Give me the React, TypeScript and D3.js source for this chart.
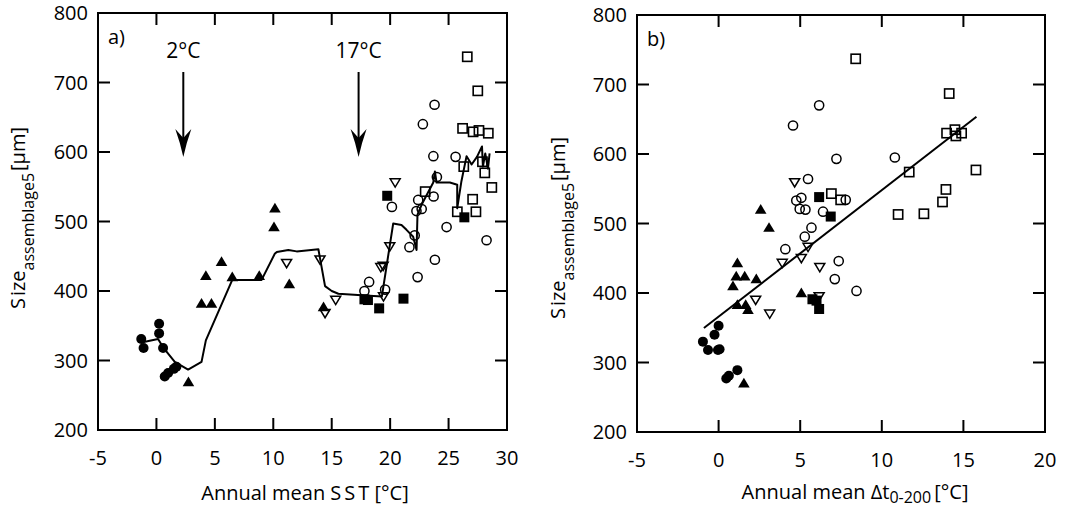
import React from "react";
import * as d3 from "d3";

type Pt = [number, number];

// ---- panel a: size vs annual mean SST ----
const sstFilledCircles: Pt[] = [[-1.3, 331], [-1.1, 318], [0.23, 353], [0.23, 339], [0.57, 318], [0.71, 277], [1.0, 282], [1.49, 288], [1.71, 291]];
const sstFilledTriangles: Pt[] = [[2.74, 269], [4.23, 422], [3.86, 382], [4.71, 382], [5.57, 442], [6.49, 420], [8.8, 422], [10.14, 519], [10.06, 492], [11.37, 410], [14.3, 377]];
const sstOpenDownTriangles: Pt[] = [[11.14, 440], [14.0, 445], [14.43, 368], [15.34, 387], [19.2, 434], [19.4, 436], [19.97, 464], [20.43, 556], [19.43, 392]];
const sstFilledSquares: Pt[] = [[19.75, 537], [17.8, 388], [18.1, 387], [19.06, 375], [21.14, 389], [26.35, 506]];
const sstOpenCircles: Pt[] = [[17.8, 400], [18.2, 413], [19.57, 402], [20.15, 521], [21.65, 463], [22.1, 480], [22.25, 515], [22.4, 531], [22.35, 420], [22.7, 518], [22.8, 640], [23.72, 536], [23.7, 594], [23.8, 668], [23.83, 445], [24.0, 564], [24.83, 492], [25.6, 593], [28.25, 473]];
const sstOpenSquares: Pt[] = [[26.6, 737], [27.5, 688], [26.2, 634], [27.1, 629], [27.6, 631], [28.4, 627], [26.3, 579], [27.9, 586], [28.1, 570], [28.7, 549], [23.0, 543], [27.06, 532], [25.75, 514], [27.34, 514]];
// running mean
const sstLine: Pt[] = [[-1.29, 326], [0.14, 331], [0.57, 319], [1.57, 298], [2.71, 287], [3.86, 298], [4.23, 329], [6.49, 416], [9.0, 416], [10.14, 454], [10.3, 456], [11.29, 459], [12.0, 457], [13.86, 460], [14.43, 407], [15.0, 400], [15.57, 396], [17.57, 394], [19.29, 392], [20.26, 497], [20.97, 495], [21.4, 488], [21.97, 478], [22.26, 459], [22.34, 510], [22.69, 524], [23.69, 556], [23.83, 572], [23.97, 556], [25.11, 556], [25.74, 553], [25.74, 519], [26.1, 558], [26.54, 594], [26.97, 582], [27.43, 593], [27.86, 608], [27.94, 579], [28.14, 598], [28.37, 576], [28.51, 598]];
const sstArrows = [{ x: 2.3, label: "2°C" }, { x: 17.3, label: "17°C" }];

// ---- panel b: size vs annual mean dt 0-200 ----
const dtFilledCircles: Pt[] = [[-0.96, 330], [-0.65, 318], [-0.25, 340], [0, 353], [-0.04, 318], [0.06, 319], [0.47, 277], [0.63, 281], [1.15, 289]];
const dtFilledTriangles: Pt[] = [[1.55, 270], [2.58, 520], [3.09, 494], [1.15, 443], [0.88, 410], [1.08, 424], [1.6, 424], [2.31, 420], [1.15, 383], [1.66, 383], [1.8, 376], [5.07, 400]];
const dtOpenDownTriangles: Pt[] = [[4.66, 559], [3.9, 443], [5.07, 450], [5.48, 466], [6.2, 437], [2.27, 390], [3.13, 370], [6.16, 395]];
const dtFilledSquares: Pt[] = [[6.16, 538], [6.87, 510], [5.75, 391], [6.0, 389], [6.16, 377]];
const dtOpenCircles: Pt[] = [[4.56, 641], [6.16, 670], [7.22, 593], [5.48, 564], [4.76, 533], [5.07, 537], [4.97, 521], [5.32, 520], [6.4, 517], [7.79, 534], [5.69, 494], [5.28, 481], [4.09, 463], [7.36, 446], [7.12, 420], [8.45, 403], [10.8, 595]];
const dtOpenSquares: Pt[] = [[8.4, 737], [14.13, 687], [13.97, 630], [14.48, 635], [14.54, 626], [14.89, 630], [11.68, 574], [15.77, 577], [13.93, 549], [13.72, 531], [11.0, 513], [12.58, 514], [6.91, 543], [7.48, 534]];
const dtFit = { intercept: 366, slope: 18.2, from: -0.9, to: 15.8 };

const sizeTicks = [200, 300, 400, 500, 600, 700, 800];
const sstTicks = [-5, 0, 5, 10, 15, 20, 25, 30];
const dtTicks = [-5, 0, 5, 10, 15, 20];

const FONT = "'Open Sans', sans-serif";
const TICK = 12;

type Kind = "fc" | "ft" | "od" | "fs" | "oc" | "os";

const Marker = ({ kind, x, y }: { kind: Kind; x: number; y: number }) => {
  if (kind === "fc") return <circle cx={x} cy={y} r={5} fill="#000" />;
  if (kind === "oc") return <circle cx={x} cy={y} r={4.6} fill="none" stroke="#000" strokeWidth={1.5} />;
  if (kind === "fs") return <rect x={x - 5} y={y - 5} width={10} height={10} fill="#000" />;
  if (kind === "os") return <rect x={x - 4.6} y={y - 4.6} width={9.2} height={9.2} fill="none" stroke="#000" strokeWidth={1.6} />;
  if (kind === "ft") return <path d={`M${x},${y - 5.5}L${x + 5.8},${y + 4.2}L${x - 5.8},${y + 4.2}Z`} fill="#000" />;
  return <path d={`M${x - 5},${y - 3.8}L${x + 5},${y - 3.8}L${x},${y + 4.5}Z`} fill="none" stroke="#000" strokeWidth={1.5} strokeLinejoin="miter" />;
};

type Series = { kind: Kind; data: Pt[] };

const Panel = ({ x0, x1, y0, y1, xDomain, xTicks, series, tag, children }: any) => {
  const x = d3.scaleLinear().domain(xDomain).range([x0, x1]);
  const y = d3.scaleLinear().domain([200, 800]).range([y1, y0]);
  return (
    <g>
      {typeof children === "function" ? children(x, y) : null}
      {(series as Series[]).map((s, i) =>
        s.data.map((d, j) => <Marker key={i + "-" + j} kind={s.kind} x={x(d[0])} y={y(d[1])} />)
      )}
      <rect x={x0} y={y0} width={x1 - x0} height={y1 - y0} fill="none" stroke="#000" strokeWidth={2} />
      {(xTicks as number[]).map((t) => (
        <g key={"x" + t}>
          <line x1={x(t)} x2={x(t)} y1={y1} y2={y1 - TICK} stroke="#000" strokeWidth={2} />
          <line x1={x(t)} x2={x(t)} y1={y0} y2={y0 + TICK} stroke="#000" strokeWidth={2} />
          <text x={x(t)} y={y1 + 35} textAnchor="middle" fontSize={20} fontFamily={FONT}>{t}</text>
        </g>
      ))}
      {sizeTicks.map((t) => (
        <g key={"y" + t}>
          <line x1={x0} x2={x0 + TICK} y1={y(t)} y2={y(t)} stroke="#000" strokeWidth={2} />
          <line x1={x1} x2={x1 - TICK} y1={y(t)} y2={y(t)} stroke="#000" strokeWidth={2} />
          <text x={x0 - 10} y={y(t)} dy="0.36em" textAnchor="end" fontSize={20} fontFamily={FONT}>{t}</text>
        </g>
      ))}
      <text x={x0 + 10} y={y0 + 31} fontSize={20} fontFamily={FONT}>{tag}</text>
    </g>
  );
};

const YLabel = ({ cx, cy }: { cx: number; cy: number }) => (
  <text transform={`translate(${cx},${cy}) rotate(-90)`} textAnchor="middle" fontSize={20} fontFamily={FONT}>
    S<tspan dx={2}>ize</tspan><tspan fontSize={16} dy={9}>assemblage5</tspan>
    <tspan dy={-9} dx={2}>[µm]</tspan>
  </text>
);

const App = () => {
  const line = d3.line();
  return (
    <svg width={1067} height={508} style={{ position: "absolute", left: 0, top: 0, background: "#fff" }}>
      <Panel
        x0={98} x1={507} y0={13} y1={430}
        xDomain={[-5, 30]} xTicks={sstTicks} tag="a)"
        series={[
          { kind: "fc", data: sstFilledCircles },
          { kind: "ft", data: sstFilledTriangles },
          { kind: "od", data: sstOpenDownTriangles },
          { kind: "fs", data: sstFilledSquares },
          { kind: "oc", data: sstOpenCircles },
          { kind: "os", data: sstOpenSquares },
        ]}
      >
        {(x: any, y: any) => (
          <g>
            <path d={line(sstLine.map((d) => [x(d[0]), y(d[1])]) as any) || ""} fill="none" stroke="#000" strokeWidth={2} strokeLinejoin="round" />
            {sstArrows.map((a) => {
              const ax = x(a.x);
              const tip = 157;
              return (
                <g key={a.label}>
                  <text x={ax} y={58} textAnchor="middle" fontSize={21} fontFamily={FONT}>{a.label}</text>
                  <line x1={ax} x2={ax} y1={72} y2={tip - 18} stroke="#000" strokeWidth={2} />
                  <path d={`M${ax},${tip}Q${ax - 3},${tip - 14} ${ax - 8},${tip - 28}L${ax},${tip - 19}L${ax + 8},${tip - 28}Q${ax + 3},${tip - 14} ${ax},${tip}Z`} fill="#000" />
                </g>
              );
            })}
          </g>
        )}
      </Panel>
      <Panel
        x0={637} x1={1045} y0={15} y1={432}
        xDomain={[-5, 20]} xTicks={dtTicks} tag="b)"
        series={[
          { kind: "fc", data: dtFilledCircles },
          { kind: "ft", data: dtFilledTriangles },
          { kind: "od", data: dtOpenDownTriangles },
          { kind: "fs", data: dtFilledSquares },
          { kind: "oc", data: dtOpenCircles },
          { kind: "os", data: dtOpenSquares },
        ]}
      >
        {(x: any, y: any) => (
          <line
            x1={x(dtFit.from)} y1={y(dtFit.intercept + dtFit.slope * dtFit.from)}
            x2={x(dtFit.to)} y2={y(dtFit.intercept + dtFit.slope * dtFit.to)}
            stroke="#000" strokeWidth={2}
          />
        )}
      </Panel>
      <YLabel cx={25} cy={218} />
      <YLabel cx={565} cy={228} />
      <text x={305} y={500} textAnchor="middle" fontSize={20} fontFamily={FONT}>
        Annual mean S<tspan dx={3}>S</tspan><tspan dx={3}>T [°C]</tspan>
      </text>
      <text x={855} y={499} textAnchor="middle" fontSize={20} fontFamily={FONT}>
        Annual mean Δt<tspan fontSize={16} dy={4}>0-200</tspan><tspan dy={-4} dx={3}>[°C]</tspan>
      </text>
    </svg>
  );
};

export default App;
